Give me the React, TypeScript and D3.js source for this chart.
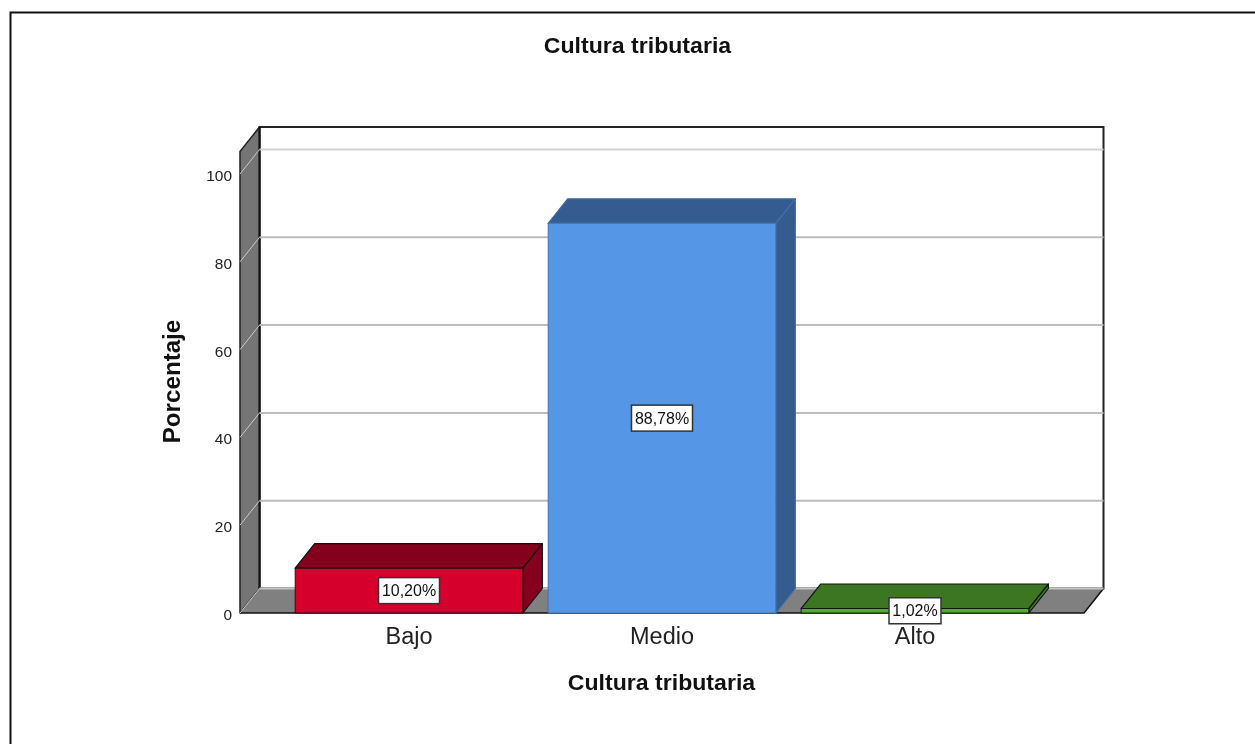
import React from "react";
import * as d3 from "d3";

const categories = ["Bajo", "Medio", "Alto"];
const percentages = [10.2, 88.78, 1.02];
const valueLabels = ["10,20%", "88,78%", "1,02%"];
const frontColors = ["#d6002d", "#5596e6", "#4fb02f"];
const topColors = ["#85001c", "#345c90", "#3c7622"];
const yTicks = [0, 20, 40, 60, 80, 100];
const chartTitle = "Cultura tributaria";
const xTitle = "Cultura tributaria";
const yTitle = "Porcentaje";

const W = 1255, H = 744;
const DX = 19.5, DY = 24.5;
const FONT = "'Liberation Sans', Arial, sans-serif";

function Stretched({ x, y, sx = 1.05, rotate = 0, anchor = "middle", size, bold, fill = "#111", children }: any) {
  return (
    <text
      transform={`translate(${x},${y}) rotate(${rotate}) scale(${sx},1)`}
      textAnchor={anchor}
      dominantBaseline="central"
      fontSize={size}
      fontWeight={bold ? "bold" : "normal"}
      fill={fill}
    >
      {children}
    </text>
  );
}

export default function App() {
  const y = d3.scaleLinear().domain([0, 100]).range([613, 174]);
  const x = d3.scaleBand<string>().domain(categories).range([282.5, 1041.5]).paddingInner(0.1).paddingOuter(0.05);
  const left = 240, right = 1084, floorY = y(0), topY = 151.5;
  const poly = (pts: [number, number][]) => pts.map(p => p.join(",")).join(" ");
  return (
    <svg width={W} height={H} style={{ position: "fixed", left: 0, top: 0, background: "#fff", filter: "blur(0.35px)" }} fontFamily={FONT}>
      <path d={`M10.5 ${H} V12.5 H${W}`} fill="none" stroke="#111" strokeWidth={2} />
      <Stretched x={637.5} y={46} size={22} bold>{chartTitle}</Stretched>

      {/* back wall */}
      <rect x={left + DX} y={topY - DY} width={right - left} height={floorY - topY} fill="#fff" stroke="#222" strokeWidth={2} />
      {/* left wall */}
      <polygon points={poly([[left, floorY], [left, topY], [left + DX, topY - DY], [left + DX, floorY - DY]])} fill="#757575" stroke="#222" strokeWidth={1.5} strokeLinejoin="round" />
      {/* floor */}
      <polygon points={poly([[left, floorY], [left + DX, floorY - DY], [right + DX, floorY - DY], [right, floorY]])} fill="#808080" />
      <path d={`M${right + DX} ${floorY - DY} L${right} ${floorY} H${left}`} fill="none" stroke="#111" strokeWidth={1.5} />
      <line x1={left + DX} x2={left + DX} y1={topY - DY} y2={floorY - DY} stroke="#111" strokeWidth={2} />
      <line x1={left + DX} x2={right + DX} y1={floorY - DY} y2={floorY - DY} stroke="#c4c4c4" strokeWidth={2} />

      {/* gridlines */}
      {yTicks.map(t => (
        <g key={t}>
          {t > 0 && <line x1={left + DX} x2={right + DX} y1={y(t) - DY} y2={y(t) - DY} stroke={t === 100 ? "#d2d2d2" : "#bdbdbd"} strokeWidth={2} />}
          <line x1={left} x2={left + DX} y1={y(t)} y2={y(t) - DY} stroke="#c8c8c8" strokeWidth={1} />
          <Stretched x={232} y={y(t) + 1.5} anchor="end" sx={1.03} size={15} fill="#222">{t}</Stretched>
        </g>
      ))}

      {/* bars */}
      {categories.map((c, i) => {
        const x0 = x(c)!, x1 = x0 + x.bandwidth(), yT = y(percentages[i]);
        const stroke = i === 1 ? "#3f6fa8" : "#111";
        return (
          <g key={c}>
            <polygon points={poly([[x0, yT], [x0 + DX, yT - DY], [x1 + DX, yT - DY], [x1, yT]])} fill={topColors[i]} stroke={stroke} strokeWidth={1.2} strokeLinejoin="round" />
            <polygon points={poly([[x1, yT], [x1 + DX, yT - DY], [x1 + DX, floorY - DY], [x1, floorY]])} fill={topColors[i]} stroke={stroke} strokeWidth={1.2} strokeLinejoin="round" />
            <rect x={x0} y={yT} width={x.bandwidth()} height={floorY - yT} fill={frontColors[i]} stroke={stroke} strokeWidth={0.9} />
          </g>
        );
      })}

      {/* category labels */}
      {categories.map(c => (
        <Stretched key={c} x={x(c)! + x.bandwidth() / 2} y={636} sx={1} size={23.5} fill="#222">{c}</Stretched>
      ))}

      {/* value labels */}
      {categories.map((c, i) => {
        const cx = x(c)! + x.bandwidth() / 2;
        const cy = (y(percentages[i]) + floorY) / 2;
        const w = 9 * valueLabels[i].length + 7;
        return (
          <g key={c}>
            <rect x={cx - w / 2} y={cy - 13} width={w} height={26} fill="#fff" stroke="#333" strokeWidth={1.5} />
            <Stretched x={cx} y={cy} sx={1} size={16}>{valueLabels[i]}</Stretched>
          </g>
        );
      })}

      <Stretched x={661.5} y={683} size={22} bold>{xTitle}</Stretched>
      <Stretched x={172} y={381.5} rotate={-90} sx={1.05} size={23} bold>{yTitle}</Stretched>
    </svg>
  );
}
